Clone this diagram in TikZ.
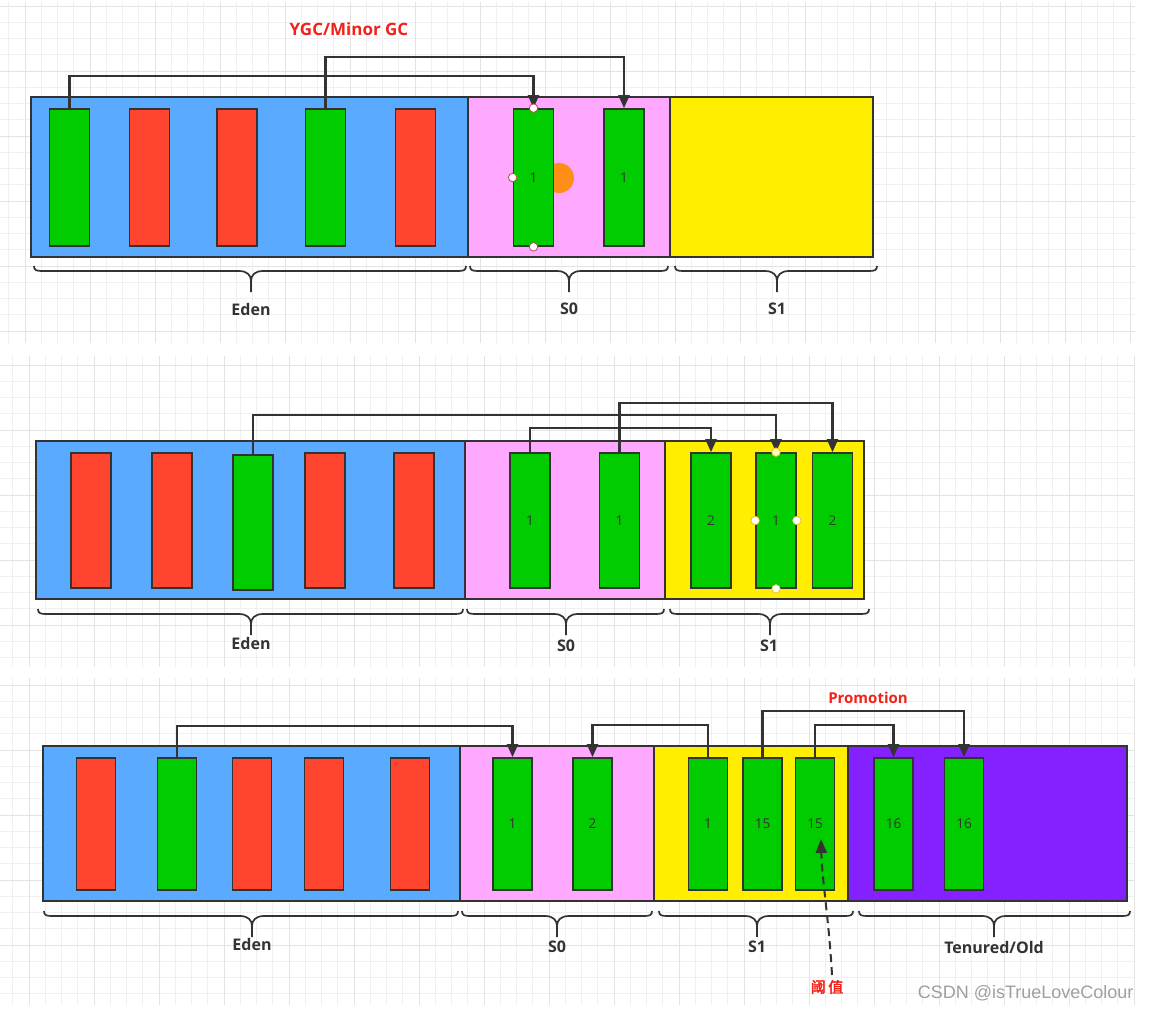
\documentclass[tikz,border=0pt]{standalone}
\usepackage{fontspec}
\newfontfamily\lblfont{Open Sans}
\newfontfamily\cjkfont[AutoFakeBold=2.5]{Noto Sans CJK SC}
\newfontfamily\wmfont{Liberation Sans}
\usetikzlibrary{arrows.meta}
\definecolor{edenc}{HTML}{5AABFF}
\definecolor{s0c}{HTML}{FFA8FF}
\definecolor{s1c}{HTML}{FFEE00}
\definecolor{oldc}{HTML}{8421FF}
\definecolor{livec}{HTML}{00CC00}
\definecolor{deadc}{HTML}{FF4530}
\definecolor{linec}{HTML}{333333}
\definecolor{titlec}{HTML}{F2221A}
\definecolor{gminc}{HTML}{F0F0F0}
\definecolor{gmajc}{HTML}{E3E3E3}
\tikzset{
  gmin/.style={draw=gminc, line width=0.6pt},
  gmaj/.style={draw=gmajc, line width=0.9pt},
  region/.style={draw=linec, line width=2pt, inner sep=0pt},
  barbase/.style={draw=linec, line width=1.7pt, inner sep=0pt, minimum width=40pt,
    font=\lblfont\fontsize{13.5}{13.5}\selectfont, text=linec},
  livebar/.style={barbase, fill=livec},
  deadbar/.style={barbase, fill=deadc},
  conn/.style={draw=linec, line width=2.1pt, -{Triangle[length=13pt,width=11pt]}},
  bracel/.style={draw=linec, line width=1.7pt},
  seglabel/.style={font=\lblfont\bfseries\fontsize{16}{16}\selectfont, text=linec},
  title/.style={font=\lblfont\bfseries\fontsize{17}{17}\selectfont, text=titlec},
  handle/.style={circle, draw=#1, fill=white, line width=0.8pt, inner sep=0pt, minimum size=8.5pt},
}
\newcommand\gcbrace[4]{%
  \draw[bracel] (#1,#4) .. controls (#1,#4+4) and (#1+2,#4+5) .. (#1+8,#4+5) -- (#3-12,#4+5)
     .. controls (#3-4,#4+5) and (#3,#4+9) .. (#3,#4+15) -- (#3,#4+26);
  \draw[bracel] (#2,#4) .. controls (#2,#4+4) and (#2-2,#4+5) .. (#2-8,#4+5) -- (#3+12,#4+5)
     .. controls (#3+4,#4+5) and (#3,#4+9) .. (#3,#4+15);
}
\begin{document}
\begin{tikzpicture}[x=1pt,y=-1pt]
\useasboundingbox (0,0) rectangle (1149,1010);
\fill[white] (0,0) rectangle (1149,1010);
% ---------- grids ----------
\foreach \gx in {8.75,25,...,1135} \draw[gmin] (\gx,2) -- (\gx,343);
\foreach \gy in {6,22.25,...,343} \draw[gmin] (0,\gy) -- (1135,\gy);
\foreach \gx in {25,90,...,1135} \draw[gmaj] (\gx,2) -- (\gx,343);
\foreach \gy in {6,71,...,343} \draw[gmaj] (0,\gy) -- (1135,\gy);

\foreach \gx in {12.75,29,...,1135} \draw[gmin] (\gx,356) -- (\gx,667);
\foreach \gy in {365,381.25,...,667} \draw[gmin] (0,\gy) -- (1135,\gy);
\foreach \gx in {29,94,...,1135} \draw[gmaj] (\gx,356) -- (\gx,667);
\foreach \gy in {365,430,...,667} \draw[gmaj] (0,\gy) -- (1135,\gy);

\foreach \gx in {12.75,29,...,1135} \draw[gmin] (\gx,678) -- (\gx,1005);
\foreach \gy in {685,701.25,...,1005} \draw[gmin] (0,\gy) -- (1135,\gy);
\foreach \gx in {29,94,...,1135} \draw[gmaj] (\gx,678) -- (\gx,1005);
\foreach \gy in {685,750,...,1005} \draw[gmaj] (0,\gy) -- (1135,\gy);

% ---------- panel 1 ----------
\node[region, fill=edenc, minimum width=437pt, minimum height=160pt] (p1eden) at (249.5,177) {};
\node[region, fill=s0c, minimum width=202pt, minimum height=160pt] (p1s0) at (569,177) {};
\node[region, fill=s1c, minimum width=203pt, minimum height=160pt] (p1s1) at (771.5,177) {};
\fill[orange!90!yellow, opacity=0.9] (559,178) circle (15);
\node[livebar, minimum height=137pt] (p1e1) at (69.5,177.5) {};
\node[deadbar, minimum height=137pt] (p1e2) at (149.5,177.5) {};
\node[deadbar, minimum height=137pt] (p1e3) at (237,177.5) {};
\node[livebar, minimum height=137pt] (p1e4) at (325.5,177.5) {};
\node[deadbar, minimum height=137pt] (p1e5) at (415.5,177.5) {};
\node[livebar, minimum height=137pt] (p1a) at (533.5,177.5) {1};
\node[livebar, minimum height=137pt] (p1b) at (624,177.5) {1};
\draw[conn] (p1e1.north) -- ++(0,-32) -| (p1a.north);
\draw[conn] (p1e4.north) -- ++(0,-51) -| (p1b.north);
\node[handle=red!40!gray] (h1) at (p1a.north) {};
\node[handle=red!40!gray] (h2) at (p1a.south) {};
\node[handle=red!40!gray] (h3) at (p1a.west) {};
\node[title] (t1) at (349,29) {YGC/Minor GC};
\gcbrace{34}{466}{251}{266}
\gcbrace{470}{668}{569}{266}
\gcbrace{675}{877}{777}{266}
\node[seglabel] (l1a) at (251,309) {Eden};
\node[seglabel] (l1b) at (569,309) {S0};
\node[seglabel] (l1c) at (777,309) {S1};

% ---------- panel 2 ----------
\node[region, fill=edenc, minimum width=429pt, minimum height=158pt] (p2eden) at (250.5,520) {};
\node[region, fill=s0c, minimum width=200pt, minimum height=158pt] (p2s0) at (565,520) {};
\node[region, fill=s1c, minimum width=199pt, minimum height=158pt] (p2s1) at (764.5,520) {};
\node[deadbar, minimum height=135pt] (p2e1) at (91,520.5) {};
\node[deadbar, minimum height=135pt] (p2e2) at (172,520.5) {};
\node[livebar, minimum height=135pt] (p2e3) at (253,522.5) {};
\node[deadbar, minimum height=135pt] (p2e4) at (325,520.5) {};
\node[deadbar, minimum height=135pt] (p2e5) at (414,520.5) {};
\node[livebar, minimum height=135pt] (p2a) at (530,520.5) {1};
\node[livebar, minimum height=135pt] (p2b) at (619.5,520.5) {1};
\node[livebar, minimum height=135pt] (p2c) at (711,520.5) {2};
\node[livebar, minimum height=135pt] (p2d) at (776,520.5) {1};
\node[livebar, minimum height=135pt] (p2e) at (832.5,520.5) {2};
\draw[conn] (p2a.north) -- ++(0,-24) -| (p2c.north);
\draw[conn] (p2e3.north) -- ++(0,-39) -| (p2d.north);
\draw[conn] (p2b.north) -- ++(0,-49) -| (p2e.north);
\node[handle=yellow!50!brown, fill=yellow!30] (h4) at (p2d.north) {};
\node[handle=yellow!50!brown] (h5) at (p2d.south) {};
\node[handle=yellow!50!brown] (h6) at (p2d.west) {};
\node[handle=yellow!50!brown] (h7) at (p2d.east) {};
\gcbrace{38}{463}{251}{609}
\gcbrace{467}{664}{566}{609}
\gcbrace{670}{869}{770}{609}
\node[seglabel] (l2a) at (251,643) {Eden};
\node[seglabel] (l2b) at (566,646) {S0};
\node[seglabel] (l2c) at (769,646) {S1};

% ---------- panel 3 ----------
\node[region, fill=edenc, minimum width=417pt, minimum height=155pt] (p3eden) at (251.5,823.5) {};
\node[region, fill=s0c, minimum width=194pt, minimum height=155pt] (p3s0) at (557,823.5) {};
\node[region, fill=s1c, minimum width=194pt, minimum height=155pt] (p3s1) at (751,823.5) {};
\node[region, fill=oldc, minimum width=279pt, minimum height=155pt] (p3old) at (987.5,823.5) {};
\node[deadbar, minimum width=39pt, minimum height=132pt] (p3e1) at (96,824) {};
\node[livebar, minimum width=39pt, minimum height=132pt] (p3e2) at (177,824) {};
\node[deadbar, minimum width=39pt, minimum height=132pt] (p3e3) at (252,824) {};
\node[deadbar, minimum width=39pt, minimum height=132pt] (p3e4) at (324,824) {};
\node[deadbar, minimum width=39pt, minimum height=132pt] (p3e5) at (410,824) {};
\node[livebar, minimum width=39pt, minimum height=132pt] (p3a) at (512.5,824) {1};
\node[livebar, minimum width=39pt, minimum height=132pt] (p3b) at (592.5,824) {2};
\node[livebar, minimum width=39pt, minimum height=132pt] (p3c) at (708,824) {1};
\node[livebar, minimum width=39pt, minimum height=132pt] (p3d) at (762.5,824) {15};
\node[livebar, minimum width=39pt, minimum height=132pt] (p3e) at (815,824) {15};
\node[livebar, minimum width=39pt, minimum height=132pt] (p3f) at (893.5,824) {16};
\node[livebar, minimum width=39pt, minimum height=132pt] (p3g) at (964,824) {16};
\draw[conn] (p3e2.north) -- ++(0,-31) -| (p3a.north);
\draw[conn] (p3c.north) -- ++(0,-32) -| (p3b.north);
\draw[conn] (p3d.north) -- ++(0,-46) -| (p3g.north);
\draw[conn] (p3e.north) -- ++(0,-32) -| (p3f.north);
\node[title, font=\lblfont\bfseries\fontsize{15}{15}\selectfont] (t3) at (868,698) {Promotion};
\gcbrace{44}{458}{252}{911}
\gcbrace{462}{652}{557}{911}
\gcbrace{659}{853}{757}{911}
\gcbrace{859}{1130}{994}{911}
\node[seglabel] (l3a) at (252,944) {Eden};
\node[seglabel] (l3b) at (557,947) {S0};
\node[seglabel] (l3c) at (757,947) {S1};
\node[seglabel] (l3d) at (994,947) {Tenured/Old};
\node[font=\cjkfont\bfseries\fontsize{15}{15}\selectfont, text=titlec] (thr) at (827,987) {阈\,值};
\coordinate (thrtip) at (821,839);
\draw[draw=linec, line width=2pt, dash pattern=on 8pt off 5pt, -{Triangle[length=14pt,width=11pt]}]
  (832,975) .. controls (829,920) and (822,880) .. (thrtip);
\node[font=\wmfont\fontsize{18}{18}\selectfont, text=gray!75, anchor=east] (wm) at (1137,993) {CSDN @isTrueLoveColour};
\end{tikzpicture}
\end{document}
